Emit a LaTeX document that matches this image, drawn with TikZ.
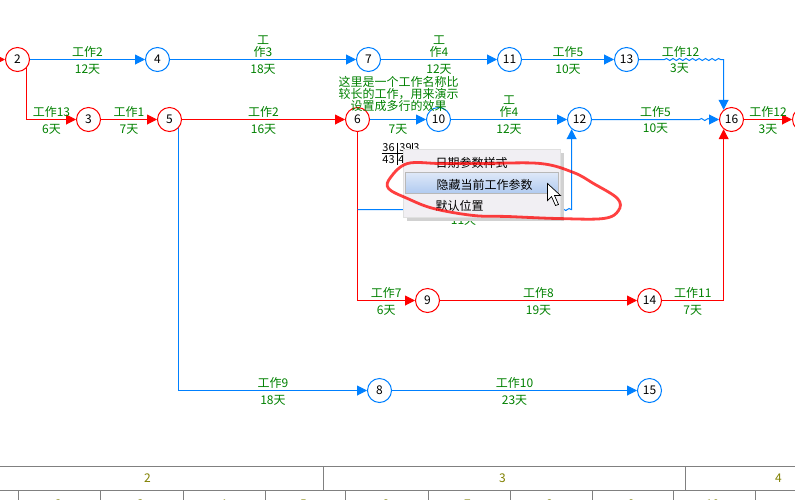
\documentclass[tikz,border=0pt]{standalone}
\usepackage{fontspec}
\setmainfont{Noto Sans CJK SC}
\usetikzlibrary{arrows.meta, decorations.pathmorphing}
\definecolor{critred}{RGB}{255,0,0}
\definecolor{planblue}{RGB}{0,128,255}
\definecolor{labgreen}{RGB}{0,128,0}
\definecolor{scaleolive}{RGB}{128,128,0}
\definecolor{menugray}{RGB}{241,239,243}
\definecolor{hilite top}{RGB}{222,232,248}
\definecolor{hilite bot}{RGB}{176,202,240}
\begin{document}
\begin{tikzpicture}[x=1pt,y=-1pt,font=\fontsize{12}{12}\selectfont,
  evt/.style={circle,draw,fill=white,line width=1pt,minimum size=24pt,inner sep=0pt},
  crit node/.style={evt,draw=critred},
  plan node/.style={evt,draw=planblue},
  crit/.style={line width=1pt,draw=critred,-{Triangle[length=10pt,width=10pt]}},
  plan/.style={line width=1pt,draw=planblue,-{Triangle[length=10pt,width=10pt]}},
  wave/.style={decoration={snake,amplitude=1pt,segment length=6.5pt}},
  lab/.style={text=labgreen,align=center,inner sep=1.5pt},
  up/.style={lab,above},
  dn/.style={lab,below,yshift=-2.5pt},
  scale label/.style={text=scaleolive,font=\fontsize{12}{12}\selectfont},
  param/.style={inner sep=0pt,font=\fontsize{11}{11}\selectfont},
  menu item/.style={text=black,font=\fontsize{12}{12}\selectfont}]
  \useasboundingbox (0,0) rectangle (795,499);
  \begin{scope}
  \clip (0,0) rectangle (795,499);
  \begin{scope}[shift={(.5,.5)}]
  % nodes
  \node[crit node] (2) at (17,59) {2};
  \node[plan node] (4) at (157,59) {4};
  \node[plan node] (7) at (368,59) {7};
  \node[plan node] (11) at (509,59) {11};
  \node[plan node] (13) at (626,59) {13};
  \node[crit node] (3) at (88,119) {3};
  \node[crit node] (5) at (169,119) {5};
  \node[crit node] (6) at (357,119) {6};
  \node[plan node] (10) at (438,119) {10};
  \node[plan node] (12) at (579,119) {12};
  \node[crit node] (16) at (731,119) {16};
  \node[crit node] (17) at (804,119) {};
  \node[crit node] (9) at (427,300) {9};
  \node[crit node] (14) at (649,300) {14};
  \node[plan node] (8) at (379,390) {8};
  \node[plan node] (15) at (649,390) {15};
  \coordinate (in2) at (-8,59);
  \coordinate (wave13a) at (664,59);
  \coordinate (wave13b) at (723,59);
  \coordinate (wave12a) at (699,119);
  \coordinate (wave12b) at (710,119);
  \coordinate (drop6) at (357,209);
  \coordinate (wave6a) at (560,209);
  \coordinate (wave6b) at (571,209);
  % top row
  \path
    (in2) edge[crit] (2)
    (2) edge[plan] node[up]{工作2} node[dn]{12天} (4)
    (4) edge[plan] node[up]{工\\作3} node[dn]{18天} (7)
    (7) edge[plan] node[up]{工\\作4} node[dn]{12天} (11)
    (11) edge[plan] node[up]{工作5} node[dn]{10天} (13);
  \draw[plan] (13) -- (wave13a) decorate[wave]{-- (wave13b)} -- (16.129);
  \node[up] at (680,59) {工作12};
  \node[dn] at (679,59) {3天};
  % middle row
  \draw[crit] (2.-41) |- (3) node[up,pos=.75]{工作13} node[dn,pos=.75]{6天};
  \path
    (3) edge[crit] node[up]{工作1} node[dn]{7天} (5)
    (5) edge[crit] node[up]{工作2} node[dn]{16天} (6)
    (6) edge[plan] node[dn]{7天} (10)
    (10) edge[plan] node[up]{工\\作4} node[dn]{12天} (12)
    (16) edge[crit] node[up]{工作12} node[dn]{3天} (17);
  \draw[plan] (12) -- (wave12a) decorate[wave]{-- (wave12b)} -- (16);
  \node[up] at (655,119) {工作5};
  \node[dn] at (655,119) {10天};
  \node[up,yshift=6pt] at (398,119) {这里是一个工作名称比\\较长的工作\char"FF0C 用来演示\\设置成多行的效果};
  % lower rows
  \draw[crit] (6) |- (9) node[up,pos=.75]{工作7} node[dn,pos=.75]{6天};
  \path (9) edge[crit] node[up]{工作8} node[dn]{19天} (14);
  \draw[crit] (14) -| (16.231) node[up,pos=.25]{工作11} node[dn,pos=.25]{7天};
  \draw[plan] (5.-41) |- (8) node[up,pos=.75]{工作9} node[dn,pos=.75]{18天};
  \path (8) edge[plan] node[up]{工作10} node[dn]{23天} (15);
  \draw[plan] (drop6) -- (wave6a) decorate[wave]{-- (wave6b)} -- (12.231);
  \node[dn] at (463,211) {11天};
  % date parameters
  \node[param] (p1) at (388,147) {36};
  \node[param] (p2) at (388,159) {43};
  \node[param] (p3) at (405,147) {39};
  \node[param] (p4) at (401,159) {4};
  \node[param] (p5) at (416,147) {3};
  \draw[black,line width=1pt] (381,153) -- (412,153) (397,142) -- (397,164) (412,142) -- (412,153);
  % context menu
  \fill[black!18] (406,152) rectangle (563,220);
  \node[fill=menugray,draw=black!12,line width=.5pt,minimum width=157pt,minimum height=68pt,inner sep=0pt] (menu) at (481.5,183) {};
  \shade[top color=hilite top,bottom color=hilite bot,draw=black!28,line width=.5pt] (405,172) rectangle (558,193);
  \node[menu item] (m1) at (471,162) {日期参数样式};
  \node[menu item] (m2) at (484,184) {隐藏当前工作参数};
  \node[menu item] (m3) at (459,205) {默认位置};
  \draw[black,fill=white,line width=.7pt,line join=miter] (547,183) -- (547,200) -- (551,196) -- (555,205) -- (558,204) -- (554,195) -- (560,195) -- cycle;
  \draw[critred,line width=2.8pt,opacity=.75] plot[smooth cycle,tension=.6] coordinates {(483,163) (540,163) (573,172) (593,183) (617,198) (618,210) (603,218) (557,218) (507,216) (473,215) (433,208) (407,198) (388,188) (390,177) (407,163) (440,163)};
  % time scale
  \draw[gray,line width=1pt] (-2,466) -- (797,466) (-2,490) -- (797,490);
  \foreach \xpos in {323,685} \draw[gray,line width=1pt] (\xpos,466) -- (\xpos,490);
  \foreach \xpos in {18,100,183,265,345,428,510,592,673,755} \draw[gray,line width=1pt] (\xpos,490) -- (\xpos,500);
  \node[scale label] (y2) at (147,478) {2};
  \node[scale label] (y3) at (502,478) {3};
  \node[scale label] (y4) at (778,478) {4};
  \foreach \xpos/\mon in {58/2,140/3,223/4,303/5,385/6,467/7,549/8,631/9,712/10}
    \node[scale label] (m\mon) at (\xpos,503.5) {\mon};
  \end{scope}
  \end{scope}
\end{tikzpicture}
\end{document}
